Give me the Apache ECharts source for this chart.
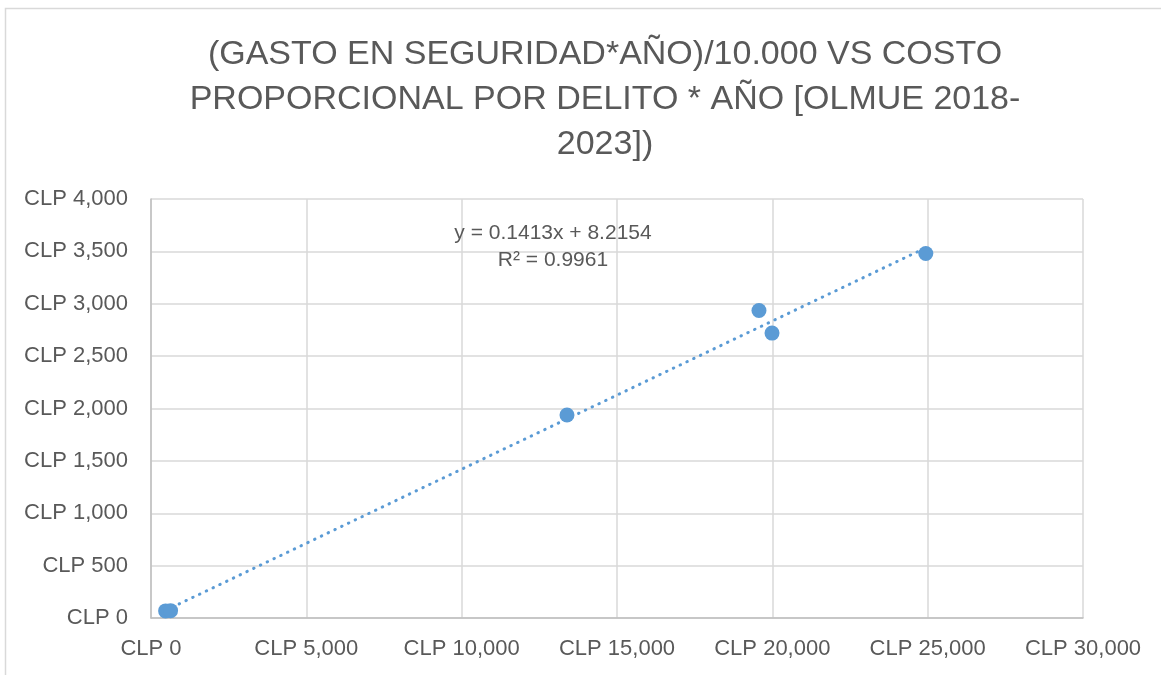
<!DOCTYPE html>
<html>
<head>
<meta charset="utf-8">
<script src="https://cdn.jsdelivr.net/npm/echarts@6/dist/echarts.min.js"></script>
<style>
	html, body { margin: 0; padding: 0; background: #fff; }
	#chart { width: 1161px; height: 675px; }
</style>
</head>
<body>
<div id="chart"></div>
<script>
// 数据：每年的 (gasto*año)/10.000 与 costo proporcional
var gastoX = [470, 630, 13390, 19570, 19990, 24940];
var costoY = [68, 70, 1938, 2935, 2720, 3480];
var trendLabel = ['y = 0.1413x + 8.2154', 'R² = 0.9961'];
var titleText = '(GASTO EN SEGURIDAD*AÑO)/10.000 VS COSTO\nPROPORCIONAL POR DELITO * AÑO [OLMUE 2018-\n2023])';

window.onload = function() {
	var chart = echarts.init(document.getElementById('chart'));
	var font = '"Liberation Sans", Arial, sans-serif';
	var gray = '#595959';

	// 散点数据
	var points = [];
	for (var i = 0; i < gastoX.length; i++) {
		points.push([gastoX[i], costoY[i]]);
	}

	// 线性趋势线 (最小二乘)
	var n = gastoX.length, sx = 0, sy = 0, sxx = 0, sxy = 0;
	for (var j = 0; j < n; j++) {
		sx += gastoX[j]; sy += costoY[j];
		sxx += gastoX[j] * gastoX[j]; sxy += gastoX[j] * costoY[j];
	}
	var slope = (n * sxy - sx * sy) / (n * sxx - sx * sx);
	var inter = (sy - slope * sx) / n;
	var xMin = Math.min.apply(null, gastoX), xMax = Math.max.apply(null, gastoX);
	var trend = [[xMin, slope * xMin + inter], [xMax, slope * xMax + inter]];

	function clp(v) {
		return 'CLP ' + v.toLocaleString('en-US');
	}

	var option = {
		animation: false,
		title: {
			text: titleText,
			left: 600,
			top: 27,
			textAlign: 'center',
			textStyle: {
				fontFamily: font,
				fontSize: 34,
				fontWeight: 'normal',
				color: gray,
				lineHeight: 45
			}
		},
		grid: {
			left: 151,
			right: 78,
			top: 199,
			bottom: 57
		},
		xAxis: {
			type: 'value',
			min: 0,
			max: 30000,
			interval: 5000,
			axisLine: { show: true, onZero: false, lineStyle: { color: '#bfbfbf', width: 1.5 } },
			axisTick: { show: false },
			splitLine: { show: true, lineStyle: { color: '#d9d9d9', width: 1.5 } },
			axisLabel: {
				formatter: clp,
				color: gray,
				fontFamily: font,
				fontSize: 22,
				margin: 20
			}
		},
		yAxis: {
			type: 'value',
			min: 0,
			max: 4000,
			interval: 500,
			axisLine: { show: true, onZero: false, lineStyle: { color: '#bfbfbf', width: 1.5 } },
			axisTick: { show: false },
			splitLine: { show: true, lineStyle: { color: '#d9d9d9', width: 1.5 } },
			axisLabel: {
				formatter: clp,
				color: gray,
				fontFamily: font,
				fontSize: 22,
				margin: 23
			}
		},
		graphic: [
			{
				type: 'rect',
				shape: { x: 5.5, y: 8.5, width: 1300, height: 800 },
				style: { fill: 'none', stroke: '#d9d9d9', lineWidth: 1.5 },
				silent: true
			},
			{
				type: 'text',
				x: 553,
				y: 220,
				style: {
					text: trendLabel[0] + '\n' + trendLabel[1],
					align: 'center',
					fill: gray,
					font: '21px ' + font,
					lineHeight: 27
				},
				z: 10
			}
		],
		series: [
			{
				name: 'trend',
				type: 'line',
				data: trend,
				symbol: 'none',
				lineStyle: { color: '#5b9bd5', width: 3, type: [0.5, 7], cap: 'round' },
				z: 1
			},
			{
				name: 'datos',
				type: 'scatter',
				data: points,
				symbolSize: 15,
				itemStyle: { color: '#5b9bd5', opacity: 1 },
				z: 2
			}
		]
	};
	chart.setOption(option);
};
</script>
</body>
</html>
